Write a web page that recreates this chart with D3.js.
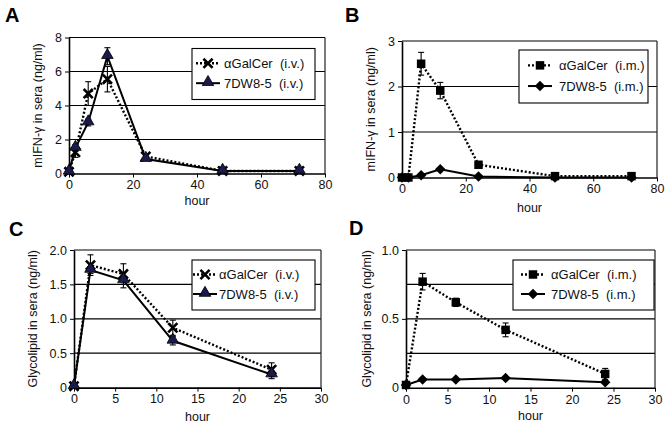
<!DOCTYPE html>
<html>
<head>
<meta charset="utf-8">
<script src="https://cdn.jsdelivr.net/npm/d3@7"></script>
<style>
  body { margin: 0; background: #fff; }
  svg { display: block; font-family: "Liberation Sans", Arial, sans-serif; }
</style>
</head>
<body>
<svg id="fig" width="666" height="426"></svg>
<script>
// hours sampled
var hoursIfn = [0, 2, 6, 12, 24, 48, 72];
var hoursLipid = [0, 2, 6, 12, 24];

// A: IFN-g, i.v.
var galcerIvIfn = [0.1, 1.25, 4.7, 5.55, 1.0, 0.15, 0.15];
var galcerIvIfnErr = [0.05, 0.3, 0.7, 0.75, 0.1, 0.05, 0.05];
var dw85IvIfn = [0.1, 1.5, 3.0, 6.9, 0.85, 0.15, 0.15];
var dw85IvIfnErr = [0.05, 0.2, 0.2, 0.5, 0.1, 0.05, 0.05];

// B: IFN-g, i.m.
var galcerImIfn = [0, 0, 2.5, 1.91, 0.28, 0.03, 0.03];
var galcerImIfnErr = [0, 0, 0.25, 0.18, 0.03, 0.01, 0.01];
var dw85ImIfn = [0, 0, 0.05, 0.18, 0.02, 0, 0];
var dw85ImIfnErr = [0, 0, 0.01, 0.03, 0.01, 0, 0];

// C: glycolipid, i.v.
var galcerIvLipid = [0.02, 1.78, 1.65, 0.87, 0.26];
var galcerIvLipidErr = [0.01, 0.15, 0.15, 0.11, 0.1];
var dw85IvLipid = [0.02, 1.71, 1.56, 0.68, 0.19];
var dw85IvLipidErr = [0.01, 0.05, 0.11, 0.06, 0.06];

// D: glycolipid, i.m.
var galcerImLipid = [0.02, 0.77, 0.62, 0.42, 0.1];
var galcerImLipidErr = [0.01, 0.06, 0.03, 0.05, 0.04];
var dw85ImLipid = [0.02, 0.06, 0.06, 0.07, 0.04];
var dw85ImLipidErr = [0.01, 0.01, 0.015, 0.02, 0.015];

var xTicksIfn = [0, 20, 40, 60, 80];
var xTicksLipid = [0, 5, 10, 15, 20, 25, 30];

var panels = [
    {letter: "A", lx: 5, ly: 22, x0: 69, x1: 325, y0: 173.5, y1: 37.5, xMax: 80, xTicks: xTicksIfn,
     yMax: 8, yTicks: [0, 2, 4, 6, 8], grid: [2, 4, 6, 8], fmt: d => d,
     yTitle: "mIFN-\u03b3 in sera (ng/ml)", titleX: 42, hourY: 205, hours: hoursIfn,
     legend: {x: 192, y: 48.5, w: 123, h: 51, mx: 16, tx: 32},
     series: [
        {name: "\u03b1GalCer  (i.v.)", v: galcerIvIfn, e: galcerIvIfnErr, dotted: true, sym: "x"},
        {name: "7DW8-5  (i.v.)", v: dw85IvIfn, e: dw85IvIfnErr, dotted: false, sym: "tri"}]},
    {letter: "B", lx: 345, ly: 22, x0: 402, x1: 657, y0: 177.5, y1: 41, xMax: 80, xTicks: xTicksIfn,
     yMax: 3, yTicks: [0, 1, 2, 3], grid: [1, 2, 3], fmt: d => d,
     yTitle: "mIFN-\u03b3 in sera (ng/ml)", titleX: 375, hourY: 212, hours: hoursIfn,
     legend: {x: 519, y: 50, w: 129, h: 53, mx: 21, tx: 40},
     series: [
        {name: "\u03b1GalCer  (i.m.)", v: galcerImIfn, e: galcerImIfnErr, dotted: true, sym: "sq"},
        {name: "7DW8-5  (i.m.)", v: dw85ImIfn, e: dw85ImIfnErr, dotted: false, sym: "dia"}]},
    {letter: "C", lx: 9, ly: 236, x0: 74, x1: 321, y0: 387.6, y1: 250, xMax: 30, xTicks: xTicksLipid,
     yMax: 2, yTicks: [0, 0.5, 1, 1.5, 2], grid: [0.5, 1, 1.5, 2], fmt: d => d === 0 ? "0" : d3.format(".1f")(d),
     yTitle: "Glycolipid in sera (ng/ml)", titleX: 37, hourY: 421, hours: hoursLipid,
     legend: {x: 192, y: 260, w: 123, h: 50, mx: 13, tx: 27},
     series: [
        {name: "\u03b1GalCer  (i.v.)", v: galcerIvLipid, e: galcerIvLipidErr, dotted: true, sym: "x"},
        {name: "7DW8-5  (i.v.)", v: dw85IvLipid, e: dw85IvLipidErr, dotted: false, sym: "tri"}]},
    {letter: "D", lx: 349, ly: 235, x0: 406, x1: 655, y0: 387.7, y1: 250, xMax: 30, xTicks: xTicksLipid,
     yMax: 1, yTicks: [0, 0.5, 1], grid: [0.25, 0.5, 0.75, 1], fmt: d => d === 0 ? "0" : d3.format(".1f")(d),
     yTitle: "Glycolipid in sera (ng/ml)", titleX: 371, hourY: 420, hours: hoursLipid,
     legend: {x: 513, y: 260, w: 141, h: 50, mx: 20, tx: 38},
     series: [
        {name: "\u03b1GalCer  (i.m.)", v: galcerImLipid, e: galcerImLipidErr, dotted: true, sym: "sq"},
        {name: "7DW8-5  (i.m.)", v: dw85ImLipid, e: dw85ImLipidErr, dotted: false, sym: "dia"}]}
];

var svg = d3.select("#fig");

function drawMarker(g, sym, cx, cy) {
    if (sym === "x") {
        g.append("path")
            .attr("d", d3.symbol().type(d3.symbolX).size(56)())
            .attr("transform", "translate(" + cx + "," + cy + ")")
            .attr("fill", "none").attr("stroke", "#000").attr("stroke-width", 2.6);
    } else if (sym === "tri") {
        g.append("path")
            .attr("d", d3.symbol().type(d3.symbolTriangle).size(58)())
            .attr("transform", "translate(" + cx + "," + (cy - 1) + ")")
            .attr("fill", "#1a1a4e").attr("stroke", "#000").attr("stroke-width", 0.8);
    } else if (sym === "sq") {
        g.append("path")
            .attr("d", d3.symbol().type(d3.symbolSquare).size(72)())
            .attr("transform", "translate(" + cx + "," + cy + ")")
            .attr("fill", "#000");
    } else {
        g.append("path")
            .attr("d", d3.symbol().type(d3.symbolDiamond2).size(70)())
            .attr("transform", "translate(" + cx + "," + cy + ")")
            .attr("fill", "#000");
    }
}

panels.forEach(function (p) {
    var x = d3.scaleLinear().domain([0, p.xMax]).range([p.x0, p.x1]);
    var y = d3.scaleLinear().domain([0, p.yMax]).range([p.y0, p.y1]);
    var g = svg.append("g");

    // gridlines
    g.selectAll(".grid").data(p.grid).enter().append("line")
        .attr("x1", p.x0).attr("x2", p.x1)
        .attr("y1", d => y(d)).attr("y2", d => y(d))
        .attr("stroke", "#000").attr("stroke-width", 1.2);
    // right border
    g.append("line").attr("x1", p.x1).attr("x2", p.x1).attr("y1", p.y1).attr("y2", p.y0)
        .attr("stroke", "#222").attr("stroke-width", 1.2);

    // axes
    var ax = g.append("g").attr("transform", "translate(0," + p.y0 + ")")
        .call(d3.axisBottom(x).tickValues(p.xTicks).tickSize(4).tickSizeOuter(0).tickPadding(3));
    var ay = g.append("g").attr("transform", "translate(" + p.x0 + ",0)")
        .call(d3.axisLeft(y).tickValues(p.yTicks).tickFormat(p.fmt).tickSize(4).tickSizeOuter(0).tickPadding(3));
    [ax, ay].forEach(function (a) {
        a.select(".domain").attr("stroke", "#000").attr("stroke-width", 1.6);
        a.selectAll(".tick line").attr("stroke", "#000");
        a.selectAll("text").attr("font-size", 12.5).attr("fill", "#111")
            .attr("font-family", "Liberation Sans, Arial, sans-serif");
    });

    // titles
    g.append("text").attr("x", (p.x0 + p.x1) / 2).attr("y", p.hourY)
        .attr("text-anchor", "middle").attr("font-size", 12.5).attr("fill", "#111").text("hour");
    g.append("text").attr("transform", "translate(" + p.titleX + "," + ((p.y0 + p.y1) / 2) + ") rotate(-90)")
        .attr("text-anchor", "middle").attr("font-size", 12.5).attr("fill", "#111").text(p.yTitle);
    g.append("text").attr("x", p.lx).attr("y", p.ly)
        .attr("font-size", 20).attr("font-weight", "bold").text(p.letter);

    // series
    p.series.forEach(function (s) {
        var pts = p.hours.map((h, i) => ({h: h, v: s.v[i], e: s.e[i]}));
        g.append("path").datum(pts)
            .attr("d", d3.line().x(d => x(d.h)).y(d => y(d.v)))
            .attr("fill", "none").attr("stroke", "#000")
            .attr("stroke-width", s.dotted ? 2.4 : 2)
            .attr("stroke-dasharray", s.dotted ? "2,2" : null);
        pts.forEach(function (d) {
            if (d.e > 0.02 * p.yMax) {
                var eg = g.append("g").attr("stroke", "#000").attr("stroke-width", 1.1);
                eg.append("line").attr("x1", x(d.h)).attr("x2", x(d.h))
                    .attr("y1", y(d.v + d.e)).attr("y2", y(d.v - d.e));
                eg.append("line").attr("x1", x(d.h) - 3).attr("x2", x(d.h) + 3)
                    .attr("y1", y(d.v + d.e)).attr("y2", y(d.v + d.e));
                eg.append("line").attr("x1", x(d.h) - 3).attr("x2", x(d.h) + 3)
                    .attr("y1", y(d.v - d.e)).attr("y2", y(d.v - d.e));
            }
            drawMarker(g, s.sym, x(d.h), y(d.v));
        });
    });

    // legend
    var L = p.legend;
    var lg = g.append("g");
    lg.append("rect").attr("x", L.x).attr("y", L.y).attr("width", L.w).attr("height", L.h)
        .attr("fill", "#fff").attr("stroke", "#000").attr("stroke-width", 1.1);
    p.series.forEach(function (s, i) {
        var ry = L.y + L.h * (i === 0 ? 0.29 : 0.68);
        lg.append("line").attr("x1", L.x + L.mx - 12).attr("x2", L.x + L.mx + 12)
            .attr("y1", ry).attr("y2", ry)
            .attr("stroke", "#000").attr("stroke-width", s.dotted ? 2.4 : 2)
            .attr("stroke-dasharray", s.dotted ? "2,2" : null);
        drawMarker(lg, s.sym, L.x + L.mx, ry);
        lg.append("text").attr("x", L.x + L.tx).attr("y", ry + 4.5)
            .attr("font-size", 13).attr("fill", "#111").attr("xml:space", "preserve")
            .style("white-space", "pre").text(s.name);
    });
});
</script>
</body>
</html>
